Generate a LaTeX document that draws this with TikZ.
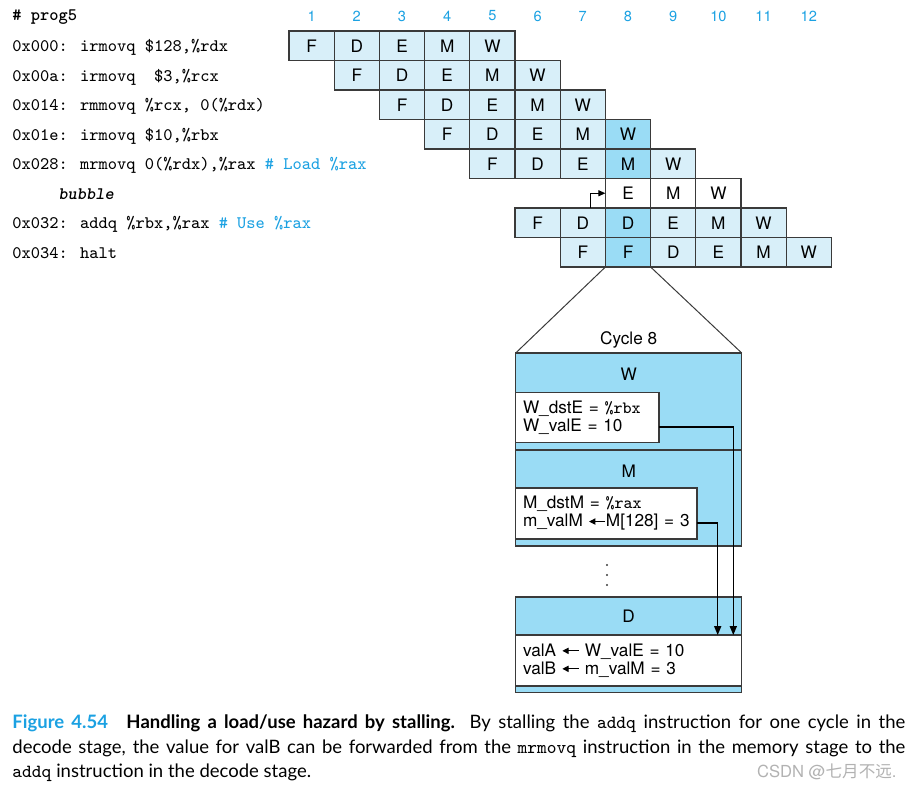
\documentclass[tikz,border=0pt]{standalone}
\usepackage{fontspec}
\setsansfont{TeX Gyre Heros}
\newfontfamily\capfont{Lato}
\newfontfamily\cjkfont{Noto Sans CJK SC}
\usepackage{xcolor}
\usetikzlibrary{positioning,arrows.meta,calc}

\definecolor{cyclecol}{HTML}{1BA1E2}
\definecolor{stagelt}{HTML}{D8EFF9}
\definecolor{stagedk}{HTML}{9ADCF5}
\definecolor{gridline}{HTML}{3A3A3A}

\newcommand{\getsarr}{\tikz[baseline=-0.6ex]\draw[line width=0.5pt,-{Triangle[length=3.2pt,width=3.2pt]}] (0.95em,0) -- (0,0);}

\begin{document}
\begin{tikzpicture}[
  x=0.5pt,y=-0.5pt,
  cell/.style={draw=gridline,line width=0.6pt,minimum width=22.6pt,minimum height=14.75pt,inner sep=0pt,outer sep=0pt,font=\sffamily\fontsize{8.6}{10}\selectfont},
  cyc/.style={text=cyclecol,font=\sffamily\fontsize{7.3}{9}\selectfont,inner sep=0pt},
  code/.style={anchor=base west,inner sep=0pt,font=\ttfamily\fontsize{8.8}{10}\selectfont},
  stagebox/.style={draw=gridline,line width=0.6pt,fill=stagedk,minimum width=113pt,inner sep=0pt,outer sep=0pt,anchor=north west},
  valbox/.style={draw=gridline,line width=0.6pt,fill=white,anchor=north west,align=left,inner xsep=3.65pt,inner ysep=0pt,outer sep=0pt,font=\sffamily\fontsize{8.6}{9}\selectfont},
  lab/.style={inner sep=0pt,font=\sffamily\fontsize{8.6}{10}\selectfont},
  fwd/.style={draw=black,line width=0.6pt,-{Triangle[length=4.5pt,width=3.6pt]}},
  capline/.style={anchor=base west,inner sep=0pt,font=\capfont\fontsize{9.25}{11}\selectfont}]
\useasboundingbox (0,0) rectangle (910,786);

% program listing
\node[code,font=\ttfamily\bfseries\fontsize{8.8}{10}\selectfont] (prog) at (12,21) {\#\ prog5};
\node[code] (code1) at (12,51.75) {0x000: irmovq \$128,\%rdx};
\node[code] (code2) at (12,81.25) {0x00a: irmovq\ \ \$3,\%rcx};
\node[code] (code3) at (12,110.75) {0x014: rmmovq \%rcx, 0(\%rdx)};
\node[code] (code4) at (12,140.25) {0x01e: irmovq \$10,\%rbx};
\node[code] (code5) at (12,169.75) {0x028: mrmovq 0(\%rdx),\%rax {\color{cyclecol}\#\ Load \%rax}};
\node[code,font=\ttfamily\bfseries\itshape\fontsize{8.8}{10}\selectfont] (code6) at (58,199.25) {bubble};
\node[code] (code7) at (12,228.75) {0x032: addq \%rbx,\%rax {\color{cyclecol}\#\ Use \%rax}};
\node[code] (code8) at (12,258.25) {0x034: halt};

% cycle numbers
\foreach \c in {1,...,12}
  \node[cyc] (n\c) at ({311.6+(\c-1)*45.2},16) {\c};

% pipeline cells
\foreach \r/\first/\stages in {1/1/{F,D,E,M,W},2/2/{F,D,E,M,W},3/3/{F,D,E,M,W},
    4/4/{F,D,E,M,W},5/5/{F,D,E,M,W},6/8/{E,M,W},7/6/{F,D,D,E,M,W},8/7/{F,F,D,E,M,W}} {
  \foreach \s [count=\k] in \stages {
    \pgfmathtruncatemacro\c{\first+\k-1}
    \ifnum\c=8 \def\fillc{stagedk}\else\def\fillc{stagelt}\fi
    \ifnum\r=6 \def\fillc{white}\fi
    \node[cell,fill=\fillc] (s-\r-\c) at ({311.6+(\c-1)*45.2},{45.75+(\r-1)*29.5}) {\s};
  }
}
\draw[fwd,line width=0.5pt,-{Triangle[length=3.5pt,width=3pt]}] ([xshift=3.6pt]s-7-7.north) |- (s-6-8.west);

% cycle 8 detail
\coordinate (pl) at (515.7,353);
\coordinate (pr) at (741.7,353);
\draw[gridline,line width=0.5pt] (s-8-8.south west) -- (pl);
\draw[gridline,line width=0.5pt] (s-8-8.south east) -- (pr);
\node[lab] (cyc8) at (628.7,340) {Cycle 8};

\node[stagebox,minimum height=48.5pt] (Wst) at (515.7,353) {};
\node[lab] (Wlab) at (628.7,374) {W};
\node[valbox,text width=64.35pt,minimum height=25pt] (Wval) at (515.7,392.7)
  {W\_dstE = \texttt{\%rbx}\\W\_valE = 10};

\node[stagebox,minimum height=48pt] (Mst) at (515.7,450) {};
\node[lab] (Mlab) at (628.7,471) {M};
\node[valbox,text width=83.35pt,minimum height=25.5pt] (Mval) at (515.7,488)
  {M\_dstM = \texttt{\%rax}\\m\_valM \getsarr M[128] = 3};

\foreach \yy in {565,575,585}
  \fill[gridline] (607,\yy) circle (0.55pt);

\node[stagebox,minimum height=47.85pt] (Dst) at (515.7,597) {};
\node[lab] (Dlab) at (628.7,616) {D};
\node[valbox,text width=105.7pt,minimum height=25.5pt] (Dval) at (515.7,635)
  {valA \getsarr\ W\_valE = 10\\valB \getsarr\ m\_valM = 3};

\coordinate (wdrop) at (733.3,0);
\coordinate (mdrop) at (717.7,0);
\draw[fwd] ([yshift=-4.6pt]Wval.east) -| (wdrop |- Dval.north);
\draw[fwd] ([yshift=-4.75pt]Mval.east) -| (mdrop |- Dval.north);

% caption
\node[capline] (cap1) at (12,728) {\makebox[446.5pt][s]{{\color{cyclecol}\bfseries Figure 4.54}\hspace{1em}{\bfseries Handling a load/use hazard by stalling.} By stalling the \texttt{addq} instruction for one cycle in the}};
\node[capline] (cap2) at (12,753) {\makebox[446.5pt][s]{decode stage, the value for valB can be forwarded from the \texttt{mrmovq} instruction in the memory stage to the}};
\node[capline] (cap3) at (12,777) {\texttt{addq} instruction in the decode stage.};
\node[anchor=base east,inner sep=0pt,text=gray!60,font=\sffamily\fontsize{8.3}{10}\selectfont] (wmark) at (897,777) {CSDN @{\cjkfont 七月不远}.};
\end{tikzpicture}
\end{document}
